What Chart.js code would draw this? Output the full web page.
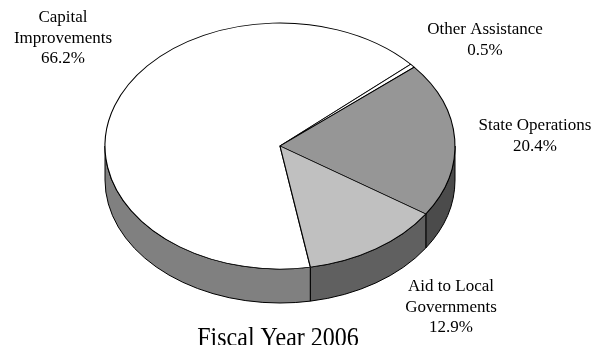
<!DOCTYPE html>
<html>
<head>
<meta charset="utf-8">
<script src="https://cdn.jsdelivr.net/npm/chart.js@4.4.1/dist/chart.umd.min.js"></script>
<style>
  html, body { margin: 0; padding: 0; background: #ffffff; }
  canvas { display: block; }
</style>
</head>
<body>
<canvas id="c" width="602" height="345"></canvas>
<script>
// Budget shares by category
const categories = ['Capital Improvements', 'Other Assistance', 'State Operations', 'Aid to Local Governments'];
const labelLines = [['Capital', 'Improvements'], ['Other Assistance'], ['State Operations'], ['Aid to Local', 'Governments']];
const shares = [66.2, 0.5, 20.4, 12.9];
const chartTitle = 'Fiscal Year 2006';

// Face and wall shades for each slice
const topColors = ['#FFFFFF', '#FFFFFF', '#969696', '#C0C0C0'];
const sideColors = ['#808080', '#808080', '#4B4B4B', '#606060'];

const SERIF = '"Liberation Serif", "Times New Roman", serif';

// Tilted disc: centre, radii of the top face and wall depth
const disc = { cx: 280, cy: 146, rx: 175, ry: 123, depth: 34 };

// Where each category label block sits (centre x, first baseline y)
const labelAnchors = [
  { x: 63, y: 22 },
  { x: 485, y: 34 },
  { x: 535, y: 130 },
  { x: 451, y: 291 }
];
const labelLineGap = 20.5;

// Caption under the disc (runs off the bottom edge)
const caption = { x: 278, y: 346, size: 24, stretch: 1.15 };

const tiltPlugin = {
  id: 'tilt',
  beforeDatasetsDraw(chart) {
    const meta = chart.getDatasetMeta(0);
    const ctx = chart.ctx;
    const { cx, cy, rx, ry, depth } = disc;

    // Front walls of the disc (lower half of the ellipse only)
    ctx.save();
    ctx.lineWidth = 1;
    ctx.strokeStyle = '#000000';
    ctx.lineJoin = 'round';
    meta.data.forEach((arc, i) => {
      const s = arc.startAngle, e = arc.endAngle;
      for (const k of [-2 * Math.PI, 0, 2 * Math.PI]) {
        const a = Math.max(s, k), b = Math.min(e, k + Math.PI);
        if (b - a <= 1e-6) continue;
        ctx.beginPath();
        ctx.ellipse(cx, cy, rx, ry, 0, a, b);
        ctx.lineTo(cx + rx * Math.cos(b), cy + depth + ry * Math.sin(b));
        ctx.ellipse(cx, cy + depth, rx, ry, 0, b, a, true);
        ctx.closePath();
        ctx.fillStyle = sideColors[i];
        ctx.fill();
        ctx.stroke();
      }
    });
    ctx.restore();

    // Squash the round pie onto the tilted top face
    const arc0 = meta.data[0];
    const R = arc0.outerRadius;
    ctx.save();
    ctx.translate(cx, cy);
    ctx.scale(rx / R, ry / R);
    ctx.translate(-arc0.x, -arc0.y);
  },
  afterDatasetsDraw(chart) {
    chart.ctx.restore();
  },
  afterDraw(chart) {
    const ctx = chart.ctx;
    ctx.save();
    ctx.font = '17px ' + SERIF;
    ctx.fillStyle = '#000000';
    ctx.textAlign = 'center';
    ctx.textBaseline = 'alphabetic';
    labelLines.forEach((lines, i) => {
      const a = labelAnchors[i];
      const all = lines.concat(shares[i].toFixed(1) + '%');
      all.forEach((t, j) => ctx.fillText(t, a.x, a.y + j * labelLineGap));
    });
    // caption
    ctx.translate(caption.x, caption.y);
    ctx.scale(1, caption.stretch);
    ctx.font = caption.size + 'px ' + SERIF;
    ctx.fillText(chartTitle, 0, 0);
    ctx.restore();
  }
};

new Chart(document.getElementById('c'), {
  type: 'pie',
  data: {
    labels: categories,
    datasets: [{
      data: shares,
      backgroundColor: topColors,
      borderColor: '#000000',
      borderWidth: 1
    }]
  },
  options: {
    responsive: false,
    animation: false,
    events: [],
    rotation: 170,
    layout: { padding: { left: 0, right: 48, top: 0, bottom: 30 } },
    plugins: {
      legend: { display: false },
      tooltip: { enabled: false },
      title: { display: false }
    }
  },
  plugins: [tiltPlugin]
});
</script>
</body>
</html>
